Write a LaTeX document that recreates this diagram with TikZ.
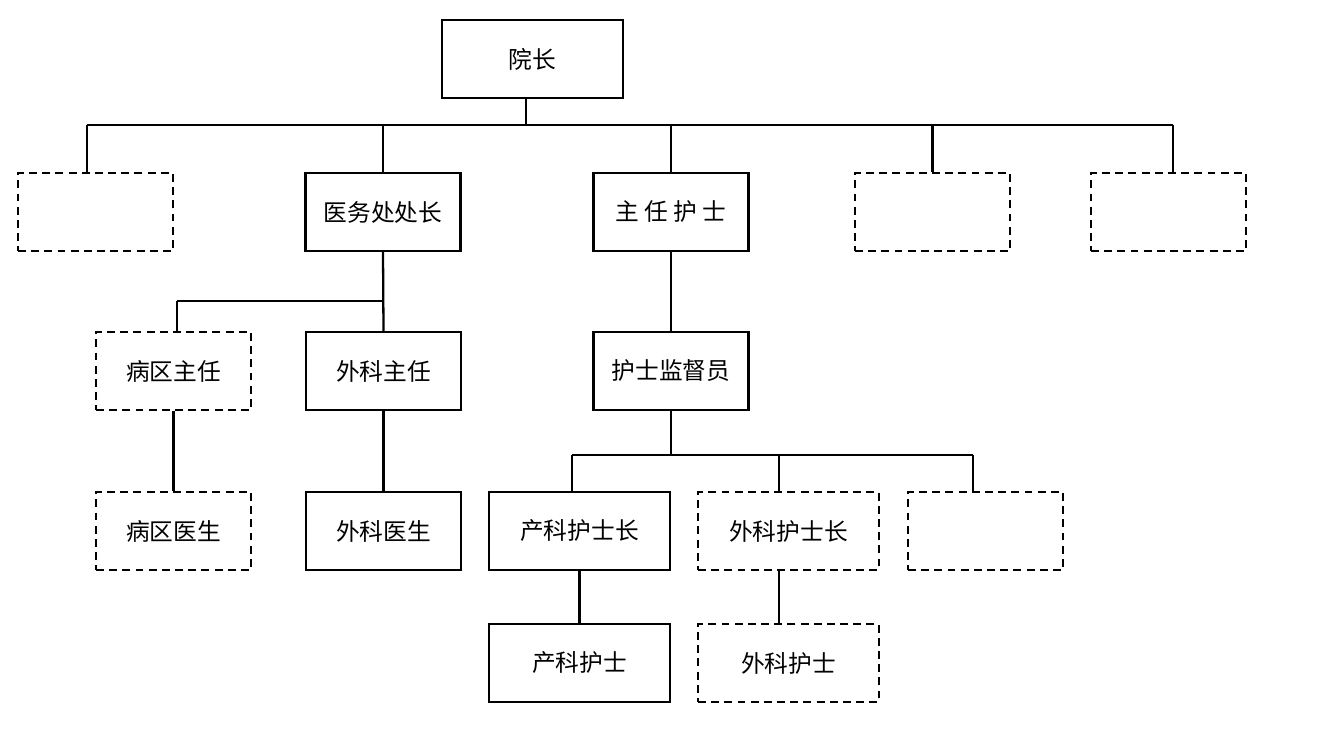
\documentclass[tikz,border=0pt]{standalone}
\usepackage{fontspec}
\newfontfamily\cjk{Noto Sans CJK SC}
\usetikzlibrary{calc}
\tikzset{
	box/.style={draw, line width=1.3pt, minimum width=3.1cm, minimum height=1.56cm, inner sep=0pt, font=\cjk\fontsize{13.5}{16}\selectfont},
	widebox/.style={box, minimum width=3.62cm},
	dashbox/.style={box, dash pattern=on 4.5pt off 3pt},
	widedashbox/.style={widebox, dash pattern=on 4.5pt off 3pt},
	link/.style={line width=1.3pt}
}

\begin{document}
\begin{tikzpicture}[x=0.02cm, y=-0.02cm]
		%%%%% START %%%%%
		\useasboundingbox (0,0) rectangle (1318,753);
		
		% top
		\node[widebox] (dean) at (532.5,59) {院长};
		
		% first row
		\node[dashbox] (emptyA) at (95.5,212) {};
		\node[box] (medHead) at (383,212) {医务处处长};
		\node[box] (chiefNurse) at (671,212) {主 任 护 士};
		\node[dashbox] (emptyB) at (932.5,212) {};
		\node[dashbox] (emptyC) at (1168.5,212) {};
		
		% second row
		\node[dashbox] (wardHead) at (173.5,371) {病区主任};
		\node[box] (surgHead) at (383.5,371) {外科主任};
		\node[box] (nurseSup) at (671,371) {护士监督员};
		
		% third row
		\node[dashbox] (wardDoc) at (173.5,531) {病区医生};
		\node[box] (surgDoc) at (383.5,531) {外科医生};
		\node[widebox] (obsNurseHead) at (579.5,531) {产科护士长};
		\node[widedashbox] (surgNurseHead) at (788.5,531) {外科护士长};
		\node[dashbox] (emptyD) at (985.5,531) {};
		
		% fourth row
		\node[widebox] (obsNurse) at (579.5,663) {产科护士};
		\node[widedashbox] (surgNurse) at (788.5,663) {外科护士};
		
		% links from dean
		\coordinate (busAL) at (87,125);
		\coordinate (busAM) at (526,125);
		\coordinate (busAR) at (1173,125);
		\draw[link] (busAM |- dean.south) -- (busAM);
		\draw[link] (busAL) -- (busAR);
		\draw[link] (busAL) -- (busAL |- emptyA.north);
		\draw[link] (medHead.north |- busAL) -- (medHead.north);
		\draw[link] (chiefNurse.north |- busAL) -- (chiefNurse.north);
		\draw[link] (emptyB.north |- busAL) -- (emptyB.north);
		\draw[link] (busAR) -- (busAR |- emptyC.north);
		
		% links from medHead
		\coordinate (busBL) at (177,301);
		\draw[link] (medHead.south) -- (surgHead.north);
		\draw[link] (busBL) -- (busBL -| medHead.south);
		\draw[link] (busBL) -- (busBL |- wardHead.north);
		\draw[link] (wardHead.south) -- (wardDoc.north);
		\draw[link] (surgHead.south) -- (surgDoc.north);
		
		% links from chiefNurse
		\draw[link] (chiefNurse.south) -- (nurseSup.north);
		\coordinate (busCL) at (572,455);
		\coordinate (busCM) at (779,455);
		\coordinate (busCR) at (973,455);
		\draw[link] (nurseSup.south) -- (nurseSup.south |- busCL);
		\draw[link] (busCL) -- (busCR);
		\draw[link] (busCL) -- (busCL |- obsNurseHead.north);
		\draw[link] (busCM) -- (busCM |- surgNurseHead.north);
		\draw[link] (busCR) -- (busCR |- emptyD.north);
		\draw[link] (obsNurseHead.south) -- (obsNurse.north);
		\draw[link] (busCM |- surgNurseHead.south) -- (busCM |- surgNurse.north);
		
		%%%%% END %%%%%
\end{tikzpicture}
\end{document}
